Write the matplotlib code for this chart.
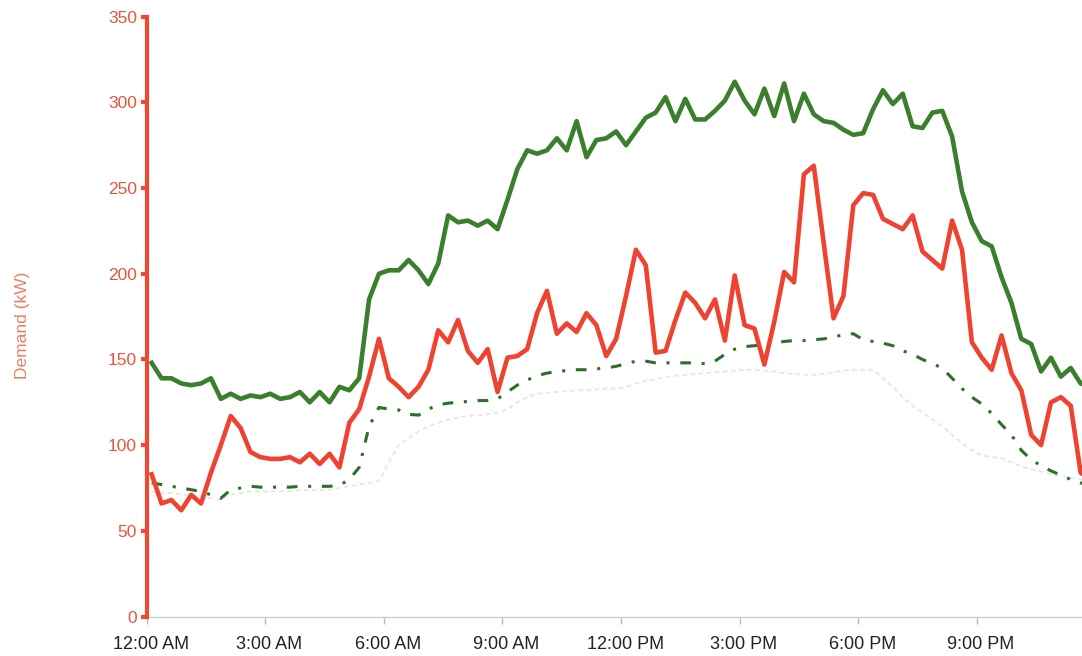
import numpy as np
import matplotlib
matplotlib.use("Agg")
import matplotlib.pyplot as plt
import matplotlib.transforms as mtransforms

plt.rcParams['font.family'] = ['Liberation Sans', 'DejaVu Sans']

# 15-minute interval demand (kW), plotted at the middle of each interval
demand_actual = [83, 66, 68, 62, 71, 66, 84, 100, 117, 110, 96, 93, 92, 92, 93, 90,
                 95, 89, 95, 87, 113, 121, 140, 162, 139, 134, 128, 134, 144, 167, 160, 173,
                 155, 148, 156, 131, 151, 152, 156, 177, 190, 165, 171, 166, 177, 170, 152, 162,
                 187, 214, 205, 154, 155, 173, 189, 183, 174, 185, 161, 199, 170, 168, 147, 172,
                 201, 195, 258, 263, 218, 174, 187, 240, 247, 246, 232, 229, 226, 234, 213, 208,
                 203, 231, 214, 160, 151, 144, 164, 142, 132, 106, 100, 125, 128, 123, 84, 80]

demand_peak = [148, 139, 139, 136, 135, 136, 139, 127, 130, 127, 129, 128, 130, 127, 128, 131,
               125, 131, 125, 134, 132, 139, 185, 200, 202, 202, 208, 202, 194, 206, 234, 230,
               231, 228, 231, 226, 243, 261, 272, 270, 272, 279, 272, 289, 268, 278, 279, 283,
               275, 283, 291, 294, 303, 289, 302, 290, 290, 295, 301, 312, 301, 293, 308, 292,
               311, 289, 305, 293, 289, 288, 284, 281, 282, 296, 307, 299, 305, 286, 285, 294,
               295, 280, 248, 230, 219, 216, 198, 183, 162, 159, 143, 151, 140, 145, 136, 134]

demand_avg = [78, 77, 76, 75, 74, 73, 71, 69, 74, 75, 76, 75.5, 75.5, 75.5, 75.5, 76,
              76, 76, 76, 76.5, 80, 87, 111, 122, 121, 120.5, 118, 117.5, 121, 123.5, 124.5, 125,
              125.5, 126, 126, 127, 131, 135, 138, 140.5, 142, 143, 143.5, 144, 144, 144.5, 145, 146,
              147.5, 149, 149, 148, 148, 148, 148, 148, 147.5, 149, 153, 156, 157.5, 158, 158.5, 159.5,
              160.5, 161, 161, 161.5, 162, 163, 164.5, 165, 161.5, 160.5, 159.5, 158, 155, 153, 150, 147.5,
              145, 139, 133, 128, 124, 118.5, 112, 106, 97, 91.5, 88, 85, 82.5, 80, 78, 76.5]

demand_base = [73, 72, 72, 71, 71, 70, 69, 68, 71, 72, 73, 73, 73, 73, 73, 74,
               74, 74, 74, 75, 76, 77, 78, 79, 90, 100, 104, 108, 111, 113, 115, 116,
               117, 117.5, 118, 119, 121, 125, 128, 130, 130.5, 131, 131.5, 132, 132, 132.5, 133, 133,
               134, 136, 137.5, 138.5, 139.5, 140.5, 141, 141.5, 142, 142.5, 143, 143.5, 144, 144, 143.5, 143,
               142, 141.5, 141, 141, 141.5, 142.5, 143.5, 144, 144, 144, 139, 134, 128, 123, 119, 115,
               111, 106, 101, 97, 94, 93, 92.5, 90, 87.5, 86, 84.5, 83, 82, 81, 80, 79]

tick_hours = [0, 3, 6, 9, 12, 15, 18, 21]
tick_labels = ["12:00 AM", "3:00 AM", "6:00 AM", "9:00 AM",
               "12:00 PM", "3:00 PM", "6:00 PM", "9:00 PM"]

hours = (np.arange(len(demand_actual)) + 0.5) * 0.25

fig = plt.figure(figsize=(10.82, 6.56), dpi=100)
ax = fig.add_axes([0.1356, 0.0601, 0.8644, 0.9146])

red = "#ee4330"
green = "#3a7f2c"
axis_red = "#ee4a32"

ax.plot(hours, demand_base, color="#e6e6e6", lw=1.3, ls=(0, (2.5, 2)), zorder=1)
ax.plot(hours, demand_avg, color="#2f6e2a", lw=2.2, ls=(0, (3.5, 3.5, 1, 3.5)), zorder=2)
ax.plot(hours, demand_peak, color=green, lw=3.3, solid_joinstyle="round", zorder=3)
ax.plot(hours, demand_actual, color=red, lw=3.3, solid_joinstyle="round", zorder=4)

ax.set_xlim(0, 23.66)
ax.set_ylim(0, 350)

for side in ["top", "right"]:
    ax.spines[side].set_visible(False)
ax.spines["left"].set_color(axis_red)
ax.spines["left"].set_linewidth(3.0)
ax.spines["left"].set_zorder(5)
ax.spines["bottom"].set_color("#cfcfcf")
ax.spines["bottom"].set_linewidth(1.0)

ax.set_yticks(np.arange(0, 351, 50))
ax.tick_params(axis="y", colors=axis_red, length=4, width=3, labelsize=12.5, pad=3)
ax.tick_params(axis="y", labelcolor="#e8553a")

ax.set_xticks(tick_hours)
ax.set_xticklabels(tick_labels)
ax.tick_params(axis="x", colors="#bbbbbb", length=5, width=1, labelsize=13,
               labelcolor="#222222", pad=9)
shift = mtransforms.ScaledTranslation(4 / 100, 0, fig.dpi_scale_trans)
for lab in ax.get_xticklabels():
    lab.set_transform(lab.get_transform() + shift)

ax.set_ylabel("Demand (kW)", color="#e8805f", fontsize=12.5)
ax.yaxis.set_label_coords(-0.125, 0.486)

fig.savefig("out.png", dpi=100)
